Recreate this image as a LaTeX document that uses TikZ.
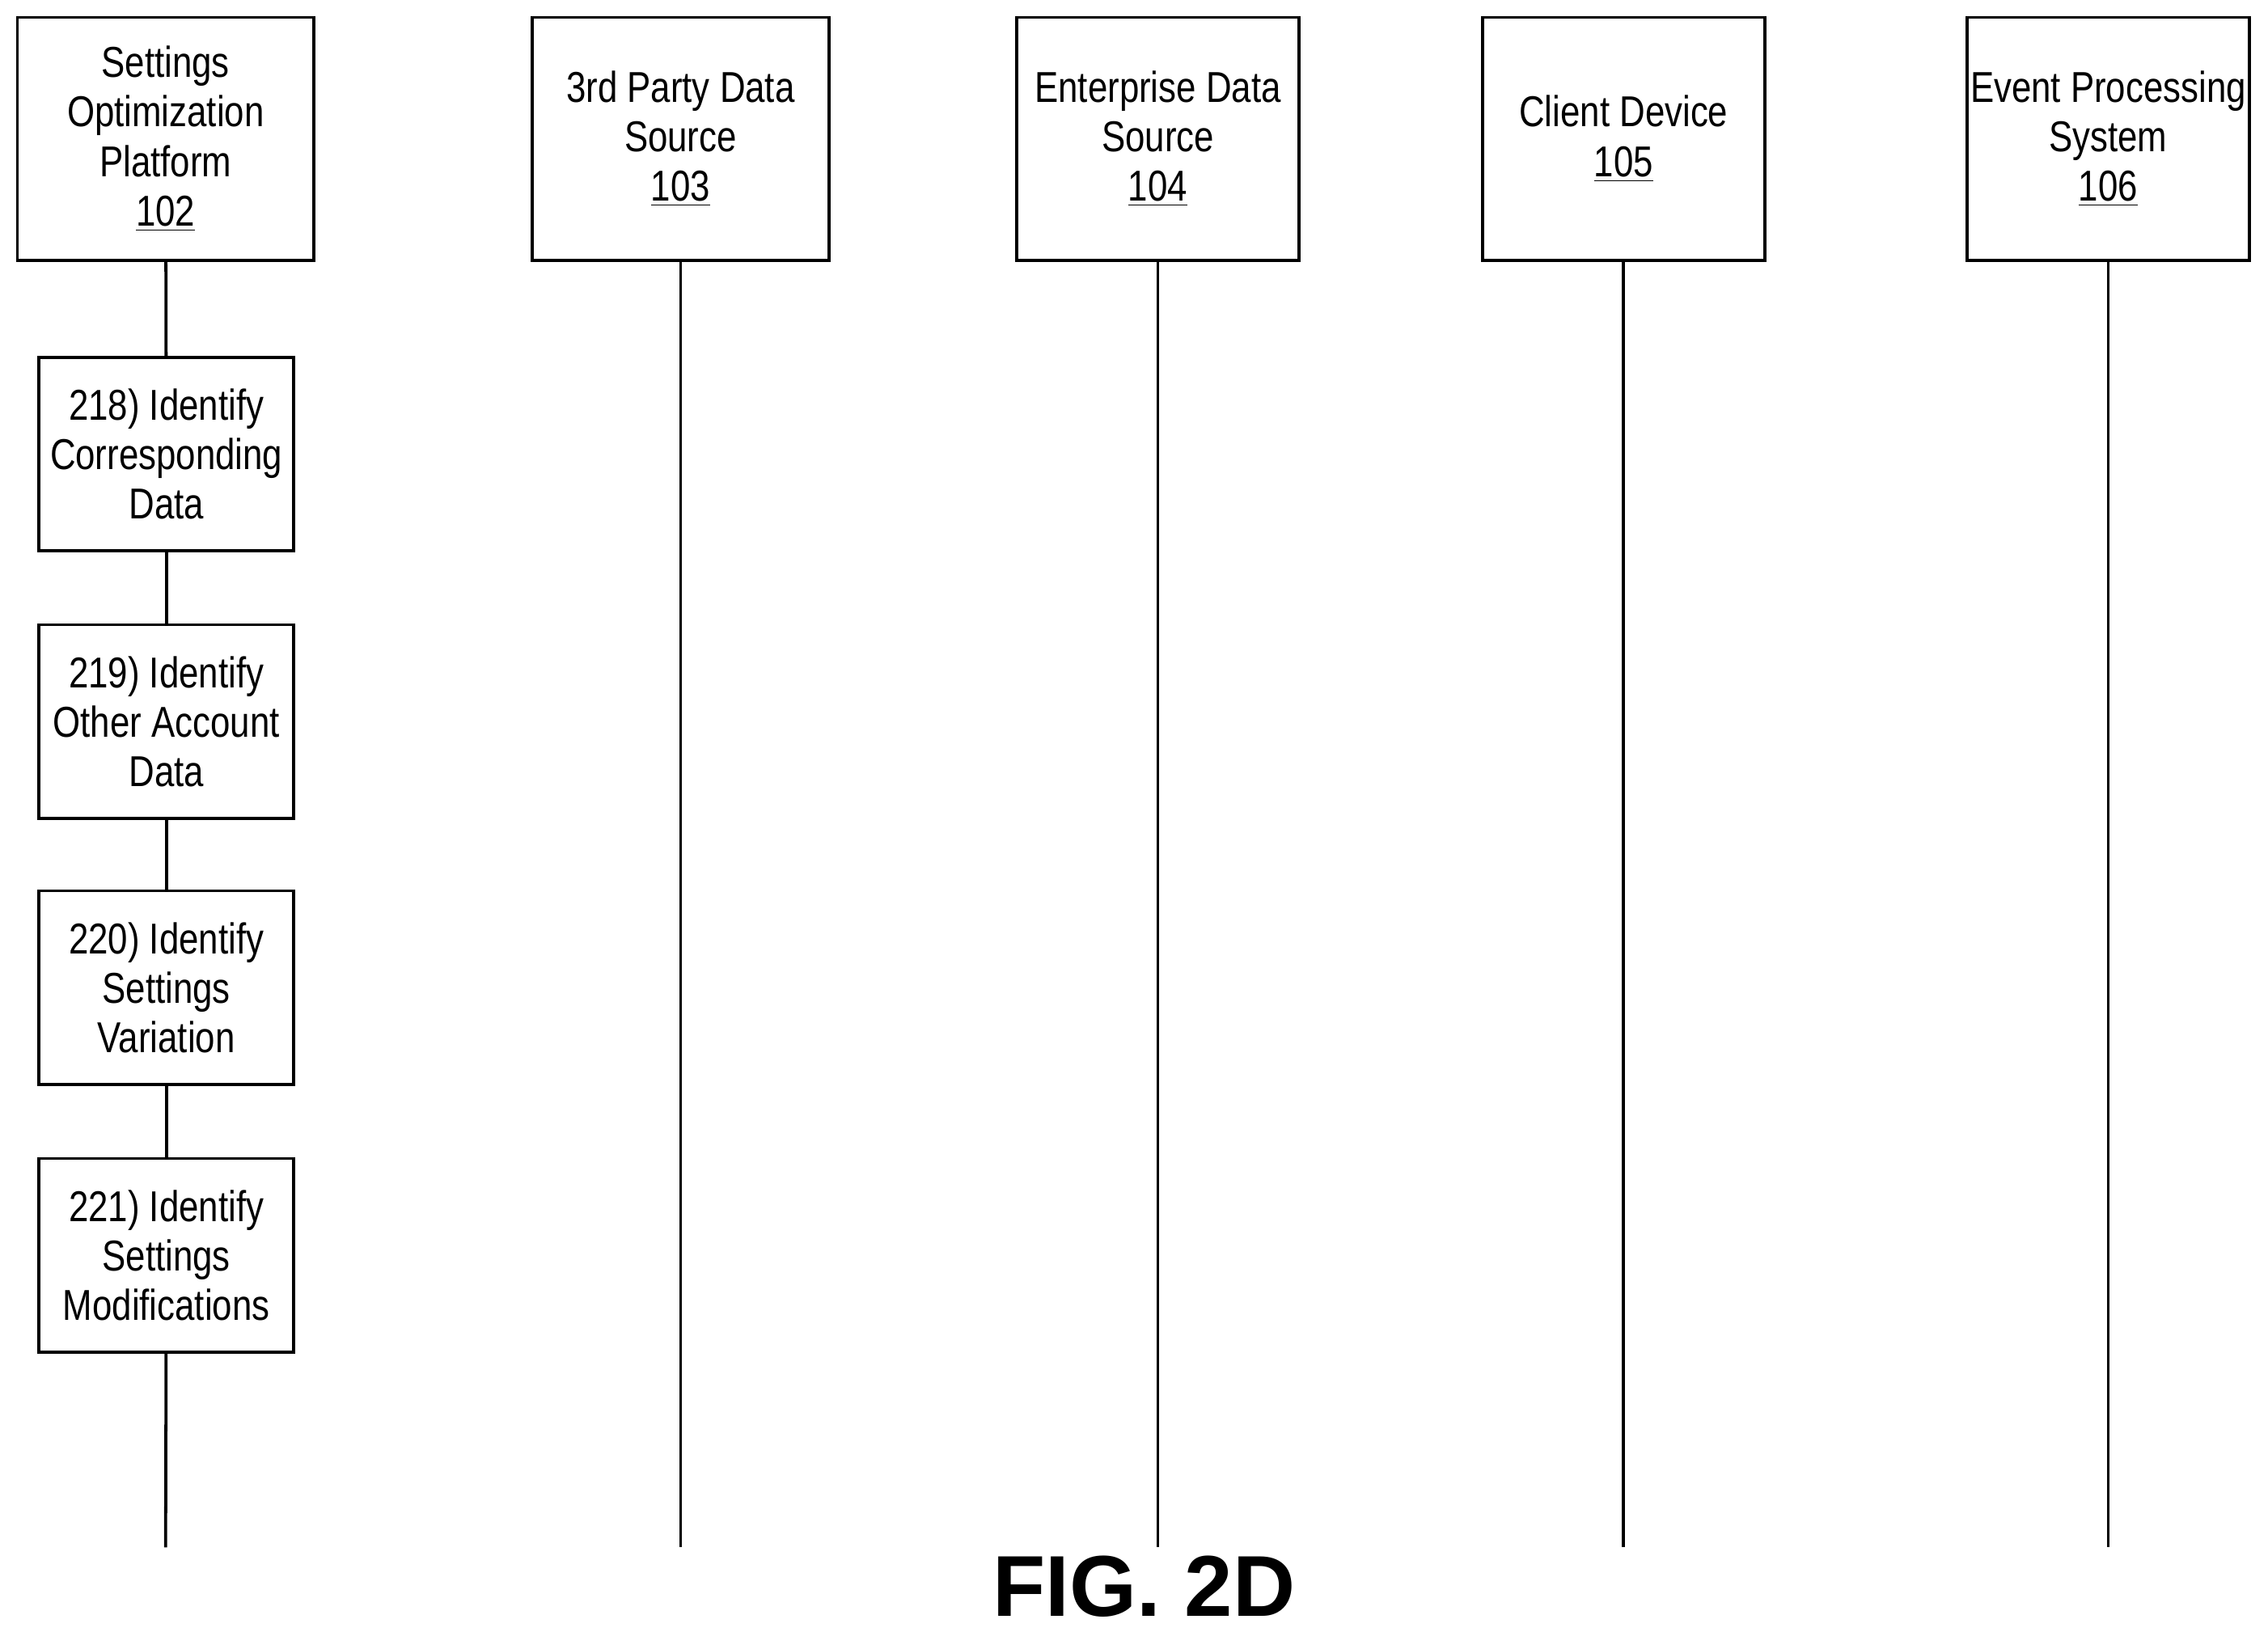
\documentclass[tikz,border=0pt]{standalone}
\usepackage{fontspec}
\setmainfont[FakeStretch=0.82]{Liberation Sans}
\newfontfamily\figfont{Liberation Sans}
\begin{document}
\begin{tikzpicture}[x=0.02cm,y=-0.02cm,
  box/.style={draw,line width=1.2pt,align=center,inner sep=0pt,font=\fontsize{17}{19.5}\selectfont},
  life/.style={line width=1.2pt}]
\useasboundingbox (0,0) rectangle (1568,1128);
\node[box,minimum width=205*0.02cm,minimum height=168*0.02cm] (p102) at (114.5,96) {Settings\\Optimization\\Platform\\\underline{102}};
\node[box,minimum width=205*0.02cm,minimum height=168*0.02cm] (p103) at (470.5,96) {3rd Party Data\\Source\\\underline{103}};
\node[box,minimum width=195*0.02cm,minimum height=168*0.02cm] (p104) at (800.5,96) {Enterprise Data\\Source\\\underline{104}};
\node[box,minimum width=195*0.02cm,minimum height=168*0.02cm] (p105) at (1122.5,96) {Client Device\\\underline{105}};
\node[box,minimum width=195*0.02cm,minimum height=168*0.02cm] (p106) at (1457.5,96) {Event Processing\\System\\\underline{106}};
\foreach \n/\y/\t in {s218/314/{218) Identify\\Corresponding\\Data},s219/499/{219) Identify\\Other Account\\Data},s220/683/{220) Identify\\Settings\\Variation},s221/868/{221) Identify\\Settings\\Modifications}}
  \node[box,minimum width=176*0.02cm,minimum height=134*0.02cm] (\n) at (115,\y) {\t};
\foreach \n in {102,103,104,105,106} \coordinate (e\n) at (p\n |- 0,1070);
\draw[life] (p102) -- (s218);
\draw[life] (s218) -- (s219);
\draw[life] (s219) -- (s220);
\draw[life] (s220) -- (s221);
\draw[life] (s221) -- (e102);
\foreach \n in {103,104,105,106} \draw[life] (p\n) -- (e\n);
\node[font=\figfont\bfseries\fontsize{34}{36}\selectfont] (fig) at (791,1097) {FIG. 2D};
\end{tikzpicture}
\end{document}
